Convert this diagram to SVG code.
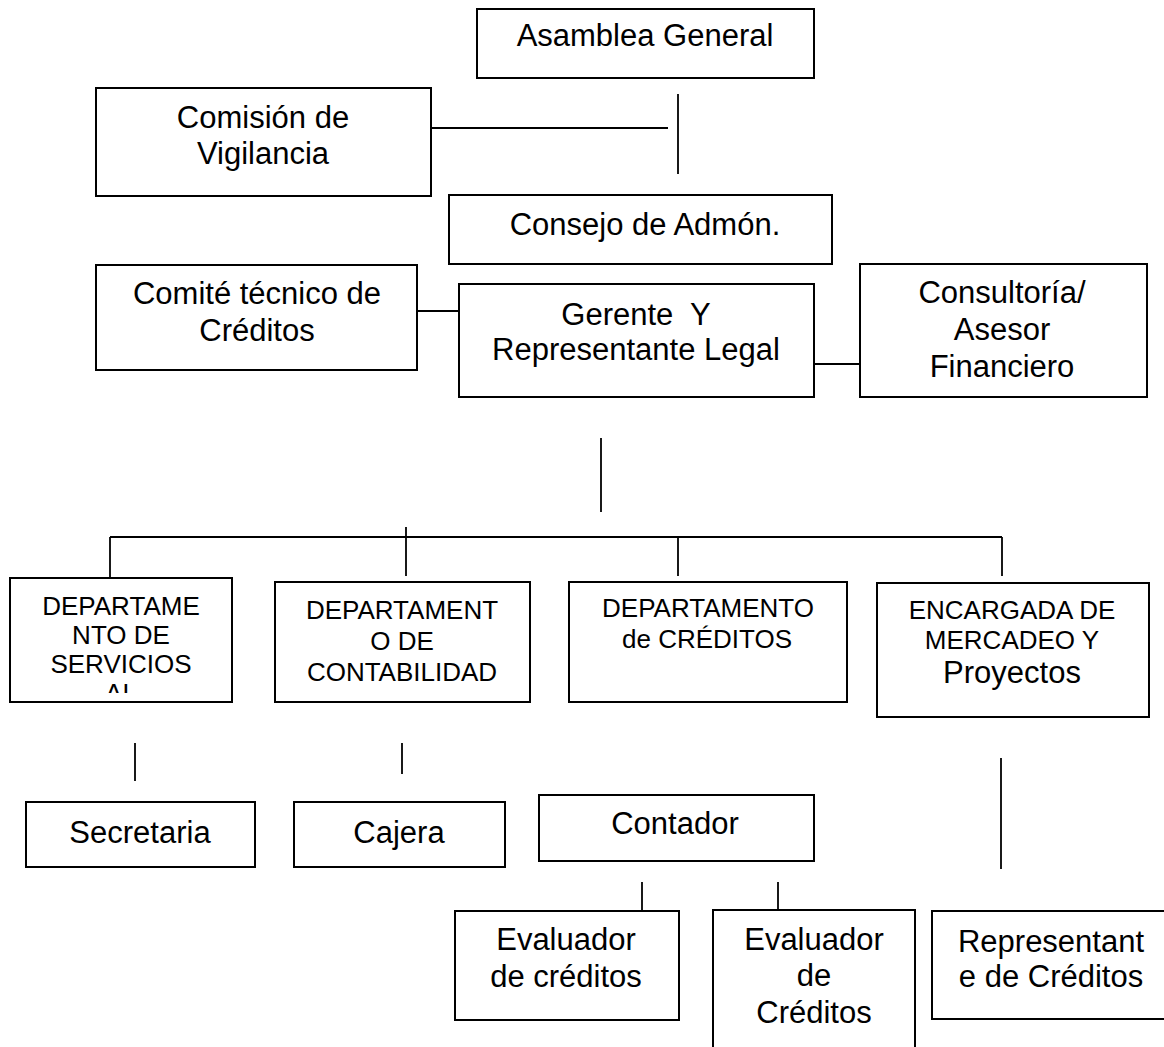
<svg xmlns="http://www.w3.org/2000/svg" width="1164" height="1047" viewBox="0 0 1164 1047">
<style>
.box{fill:#fff;stroke:#000;stroke-width:2}
.ln{stroke:#000;stroke-width:1.8;fill:none}
text{font-family:"Liberation Sans",Arial,sans-serif;fill:#000;text-anchor:middle}
.b{font-size:31px}
.s{font-size:26px}
</style>
<defs>
<clipPath id="clipServ"><rect x="10" y="578" width="222" height="115"/></clipPath>
</defs>
<rect width="1164" height="1047" fill="#fff"/>
<g id="connectors">
<line class="ln" x1="431" y1="128" x2="668" y2="128"/>
<line class="ln" x1="678" y1="94" x2="678" y2="174"/>
<line class="ln" x1="402" y1="311" x2="459" y2="311"/>
<line class="ln" x1="814" y1="364" x2="860" y2="364"/>
<line class="ln" x1="601" y1="438" x2="601" y2="512"/>
<line class="ln" x1="110" y1="537" x2="1002" y2="537"/>
<line class="ln" x1="406" y1="527" x2="406" y2="576"/>
<line class="ln" x1="678" y1="537" x2="678" y2="576"/>
<line class="ln" x1="1002" y1="537" x2="1002" y2="576"/>
<line class="ln" x1="110" y1="537" x2="110" y2="582"/>
<line class="ln" x1="135" y1="743" x2="135" y2="781"/>
<line class="ln" x1="402" y1="743" x2="402" y2="774"/>
<line class="ln" x1="1001" y1="758" x2="1001" y2="869"/>
<line class="ln" x1="642" y1="882" x2="642" y2="910"/>
<line class="ln" x1="778" y1="882" x2="778" y2="909"/>
</g>
<g id="asamblea">
<rect class="box" x="477" y="9" width="337" height="69"/>
<text class="b" x="645" y="46">Asamblea General</text>
</g>
<g id="comision">
<rect class="box" x="96" y="88" width="335" height="108"/>
<text class="b" x="263" y="128">Comisión de</text>
<text class="b" x="263" y="164">Vigilancia</text>
</g>
<g id="consejo">
<rect class="box" x="449" y="195" width="383" height="69"/>
<text class="b" x="645" y="235">Consejo de Admón.</text>
</g>
<g id="comite">
<rect class="box" x="96" y="265" width="321" height="105"/>
<text class="b" x="257" y="304">Comité técnico de</text>
<text class="b" x="257" y="341">Créditos</text>
</g>
<g id="gerente">
<rect class="box" x="459" y="284" width="355" height="113"/>
<text class="b" x="636" y="325" xml:space="preserve">Gerente  Y</text>
<text class="b" x="636" y="360">Representante Legal</text>
</g>
<g id="consultoria">
<rect class="box" x="860" y="264" width="287" height="133"/>
<text class="b" x="1002" y="303">Consultoría/</text>
<text class="b" x="1002" y="340">Asesor</text>
<text class="b" x="1002" y="377">Financiero</text>
</g>
<g id="dep-servicios">
<rect class="box" x="10" y="578" width="222" height="124"/>
<g clip-path="url(#clipServ)">
<text class="s" x="121" y="615">DEPARTAME</text>
<text class="s" x="121" y="644">NTO DE</text>
<text class="s" x="121" y="673">SERVICIOS</text>
<text class="s" x="121" y="702">AL</text>
</g>
</g>
<g id="dep-contabilidad">
<rect class="box" x="275" y="582" width="255" height="120"/>
<text class="s" x="402" y="619">DEPARTAMENT</text>
<text class="s" x="402" y="650">O DE</text>
<text class="s" x="402" y="681">CONTABILIDAD</text>
</g>
<g id="dep-creditos">
<rect class="box" x="569" y="582" width="278" height="120"/>
<text class="s" x="708" y="617">DEPARTAMENTO</text>
<text class="s" x="707" y="648">de CRÉDITOS</text>
</g>
<g id="encargada">
<rect class="box" x="877" y="583" width="272" height="134"/>
<text class="s" x="1012" y="619">ENCARGADA DE</text>
<text class="s" x="1012" y="649">MERCADEO Y</text>
<text class="b" x="1012" y="683">Proyectos</text>
</g>
<g id="secretaria">
<rect class="box" x="26" y="802" width="229" height="65"/>
<text class="b" x="140" y="843">Secretaria</text>
</g>
<g id="cajera">
<rect class="box" x="294" y="802" width="211" height="65"/>
<text class="b" x="399" y="843">Cajera</text>
</g>
<g id="contador">
<rect class="box" x="539" y="795" width="275" height="66"/>
<text class="b" x="675" y="834">Contador</text>
</g>
<g id="evaluador1">
<rect class="box" x="455" y="911" width="224" height="109"/>
<text class="b" x="566" y="950">Evaluador</text>
<text class="b" x="566" y="987">de créditos</text>
</g>
<g id="evaluador2">
<rect class="box" x="713" y="910" width="202" height="160"/>
<text class="b" x="814" y="950">Evaluador</text>
<text class="b" x="814" y="986">de</text>
<text class="b" x="814" y="1023">Créditos</text>
</g>
<g id="representante">
<rect class="box" x="932" y="911" width="240" height="108"/>
<text class="b" x="1051" y="952">Representant</text>
<text class="b" x="1051" y="987">e de Créditos</text>
</g>
</svg>
